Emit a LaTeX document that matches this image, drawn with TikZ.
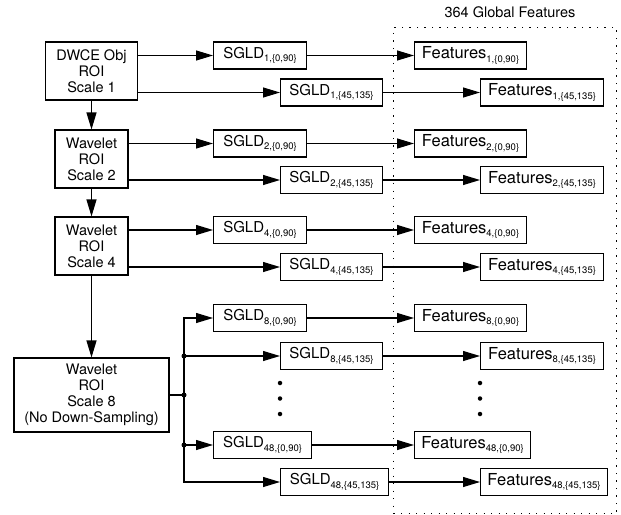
\documentclass[tikz,border=0pt]{standalone}
\usepackage{fontspec}
\setmainfont{TeX Gyre Heros}
\usepackage{tikz}
\usetikzlibrary{arrows.meta}
\newcommand{\lowidx}[1]{\raisebox{-3.5pt}{\fontsize{9.5}{10}\selectfont#1}}
\newcommand{\sgld}[2]{SGLD\lowidx{#1,\{#2\}}}
\newcommand{\feat}[2]{Features\lowidx{#1,\{#2\}}}
\tikzstyle{block}=[draw, line width=1.1pt, inner xsep=0, inner ysep=0, minimum height=27pt]
\tikzstyle{stage}=[block, align=center, font=\fontsize{14.5}{16}\selectfont]
\tikzstyle{sgldbox}=[block, anchor=west, font=\fontsize{15}{16}\selectfont]
\tikzstyle{featbox}=[block, anchor=west, font=\fontsize{16.5}{17}\selectfont]
\tikzstyle{feed}=[line width=1.1pt, -{Triangle[length=17pt, width=10pt]}]
\tikzstyle{wire}=[line width=1.1pt]
\tikzstyle{junction}=[circle, fill, inner sep=0, minimum size=5pt]
\tikzstyle{ellip}=[circle, fill, inner sep=0, minimum size=4.5pt]
\tikzstyle{region}=[draw, line width=1pt, dash pattern=on 1.3pt off 6.2pt, inner sep=0]

\begin{document}
\begin{tikzpicture}[x=1pt, y=-1pt]
    \useasboundingbox (0,0) rectangle (621,514);
    % feature group
    \node[region, anchor=north west, minimum width=223pt, minimum height=486pt] (global) at (393,27) {};
    \node[font=\fontsize{14.5}{16}\selectfont] (title) at (510,12) {364 Global Features};
    % scales
    \node[stage, minimum width=92pt, minimum height=58pt] (dwce) at (91.5,71) {DWCE Obj\\ROI\\Scale 1};
    \node[stage, minimum width=73pt, minimum height=58pt] (wav2) at (91.5,159) {Wavelet\\ROI\\Scale 2};
    \node[stage, minimum width=73pt, minimum height=58pt] (wav4) at (91.5,246) {Wavelet\\ROI\\Scale 4};
    \node[stage, minimum width=155pt, minimum height=74pt] (wav8) at (91.5,395) {Wavelet\\ROI\\Scale 8\\(No Down-Sampling)};
    \draw[feed] (dwce) -- (wav2);
    \draw[feed] (wav2) -- (wav4);
    \draw[feed] (wav4) -- (wav8);
    % co-occurrence matrices
    \node[sgldbox, minimum width=93pt] (sa1) at (213,55.5) {\sgld{1}{0,90}};
    \node[sgldbox, minimum width=102pt] (sb1) at (280,92.5) {\sgld{1}{45,135}};
    \node[sgldbox, minimum width=93pt] (sa2) at (213,143.5) {\sgld{2}{0,90}};
    \node[sgldbox, minimum width=102pt] (sb2) at (280,180) {\sgld{2}{45,135}};
    \node[sgldbox, minimum width=93pt] (sa4) at (213,230) {\sgld{4}{0,90}};
    \node[sgldbox, minimum width=102pt] (sb4) at (280,267) {\sgld{4}{45,135}};
    \node[sgldbox, minimum width=93pt] (sa8) at (213,318) {\sgld{8}{0,90}};
    \node[sgldbox, minimum width=102pt] (sb8) at (280,356) {\sgld{8}{45,135}};
    \node[sgldbox, minimum width=98pt] (sa48) at (213,445) {\sgld{48}{0,90}};
    \node[sgldbox, minimum width=108pt] (sb48) at (280,482) {\sgld{48}{45,135}};
    % features
    \node[featbox, minimum width=112pt] (fa1) at (414,55.5) {\feat{1}{0,90}};
    \node[featbox, minimum width=123pt] (fb1) at (480,92.5) {\feat{1}{45,135}};
    \node[featbox, minimum width=112pt] (fa2) at (414,143.5) {\feat{2}{0,90}};
    \node[featbox, minimum width=123pt] (fb2) at (480,180) {\feat{2}{45,135}};
    \node[featbox, minimum width=112pt] (fa4) at (414,230) {\feat{4}{0,90}};
    \node[featbox, minimum width=123pt] (fb4) at (480,267) {\feat{4}{45,135}};
    \node[featbox, minimum width=112pt] (fa8) at (414,318) {\feat{8}{0,90}};
    \node[featbox, minimum width=123pt] (fb8) at (480,356) {\feat{8}{45,135}};
    \node[featbox, minimum width=116pt] (fa48) at (414,445) {\feat{48}{0,90}};
    \node[featbox, minimum width=127pt] (fb48) at (480,482) {\feat{48}{45,135}};
    % vertical ellipses
    \node[ellip] (se1) at (280,383) {};
    \node[ellip] (se2) at (280,398.5) {};
    \node[ellip] (se3) at (280,414) {};
    \node[ellip] (fe1) at (480,383) {};
    \node[ellip] (fe2) at (480,398.5) {};
    \node[ellip] (fe3) at (480,414) {};
    % scale 1, 2, 4
    \draw[feed] (dwce.east |- sa1) -- (sa1);
    \draw[feed] (dwce.east |- sb1) -- (sb1);
    \draw[feed] (wav2.east |- sa2) -- (sa2);
    \draw[feed] (wav2.east |- sb2) -- (sb2);
    \draw[feed] (wav4.east |- sa4) -- (sa4);
    \draw[feed] (wav4.east |- sb4) -- (sb4);
    % scale 8 splits
    \coordinate (split) at (184,395);
    \draw[wire] (wav8) -- (split);
    \draw[feed] (split) |- (sa8);
    \draw[feed] (split) |- (sb48);
    \draw[feed] (split |- sb8) -- (sb8);
    \draw[feed] (split |- sa48) -- (sa48);
    \node[junction] (j0) at (split) {};
    \node[junction] (j1) at (split |- sb8) {};
    \node[junction] (j2) at (split |- sa48) {};
    % to features
    \draw[feed] (sa1) -- (fa1);
    \draw[feed] (sb1) -- (fb1);
    \draw[feed] (sa2) -- (fa2);
    \draw[feed] (sb2) -- (fb2);
    \draw[feed] (sa4) -- (fa4);
    \draw[feed] (sb4) -- (fb4);
    \draw[feed] (sa8) -- (fa8);
    \draw[feed] (sb8) -- (fb8);
    \draw[feed] (sa48) -- (fa48);
    \draw[feed] (sb48) -- (fb48);
\end{tikzpicture}
\end{document}
